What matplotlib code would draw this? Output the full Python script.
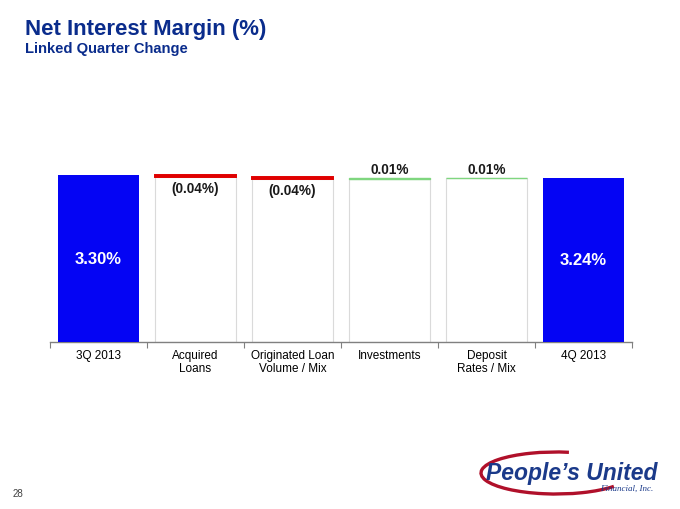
import matplotlib
matplotlib.use("Agg")
import matplotlib.pyplot as plt
from matplotlib.patches import Arc

plt.rcParams['font.family'] = ['Liberation Sans', 'DejaVu Sans']

# data
categories = ["3Q 2013", "Acquired\nLoans", "Originated Loan\nVolume / Mix",
              "Investments", "Deposit\nRates / Mix", "4Q 2013"]
start_nim = 3.30
changes = [-0.04, -0.04, 0.01, 0.01]
end_nim = 3.24
change_labels = ["(0.04%)", "(0.04%)", "0.01%", "0.01%"]

blue = "#0404F4"
red = "#E00000"
green = "#7FD67F"
navy = "#0A2C8C"

fig = plt.figure(figsize=(6.8, 5.1), dpi=100)
ax = fig.add_axes([0.0735, 0.328, 0.856, 0.397])

w = 0.83
# totals
ax.bar(0, start_nim, width=w, color=blue, zorder=3)
ax.bar(5, end_nim, width=w, color=blue, zorder=3)
ax.text(0, start_nim / 2, f"{start_nim:.2f}%", ha='center', va='center',
        color='white', fontsize=12, fontweight='bold', zorder=4)
ax.text(5, end_nim / 2, f"{end_nim:.2f}%", ha='center', va='center',
        color='white', fontsize=12, fontweight='bold', zorder=4)

# floating steps
level = start_nim
for i, (c, lab) in enumerate(zip(changes, change_labels), start=1):
    new = level + c
    lo, hi = min(level, new), max(level, new)
    col = red if c < 0 else green
    ax.bar(i, lo, width=w, color='white', edgecolor='#DADADA', linewidth=0.8, zorder=2)
    ax.bar(i, hi - lo, bottom=lo, width=w, color=col, edgecolor=col,
           linewidth=1.4 if c < 0 else 1.0, zorder=3)
    if c < 0:
        ax.text(i, lo - 0.08, lab, ha='center', va='top', fontsize=9.8,
                fontweight='bold', color='#1a1a1a')
    else:
        ax.text(i, hi + 0.04, lab, ha='center', va='bottom', fontsize=9.8,
                fontweight='bold', color='#1a1a1a')
    level = new

ax.set_xlim(-0.5, 5.5)
ax.set_ylim(0, 4.0)
for s in ['top', 'right', 'left']:
    ax.spines[s].set_visible(False)
ax.spines['bottom'].set_color('#808080')
ax.spines['bottom'].set_linewidth(1.0)
ax.set_yticks([])
ax.set_xticks([x - 0.5 for x in range(7)])
ax.set_xticklabels([])
ax.tick_params(axis='x', which='major', length=4, color='#808080', direction='out')
ax.set_xticks(range(6), minor=True)
ax.set_xticklabels(categories, minor=True, fontsize=8.5, linespacing=1.15)
ax.tick_params(axis='x', which='minor', length=0, pad=5)

# page decorations in pixel coords
ov = fig.add_axes([0, 0, 1, 1], zorder=-1)
ov.set_xlim(0, 680)
ov.set_ylim(510, 0)
ov.axis('off')
ov.text(25, 35, "Net Interest Margin (%)", fontsize=16, fontweight='bold',
        color=navy, va='baseline')
ov.text(25, 53, "Linked Quarter Change", fontsize=10.6, fontweight='bold',
        color=navy, va='baseline')
ov.text(13, 497, "28", fontsize=7, color='#404040', va='baseline')

ov.add_patch(Arc((556, 474), 150, 42, theta1=13, theta2=302,
                 color='#B0102A', lw=2.4, zorder=1))
ov.text(486, 480, "People\u2019s United", fontsize=16.5, fontweight='bold',
        fontstyle='italic', color='#1B3A8A', va='baseline', zorder=3)
ov.text(600, 491, "Financial, Inc.", fontsize=6.5, fontstyle='italic',
        family='Liberation Serif', color='#1B3A8A', va='baseline', zorder=3)

fig.savefig("out.png", dpi=100, facecolor='white')
